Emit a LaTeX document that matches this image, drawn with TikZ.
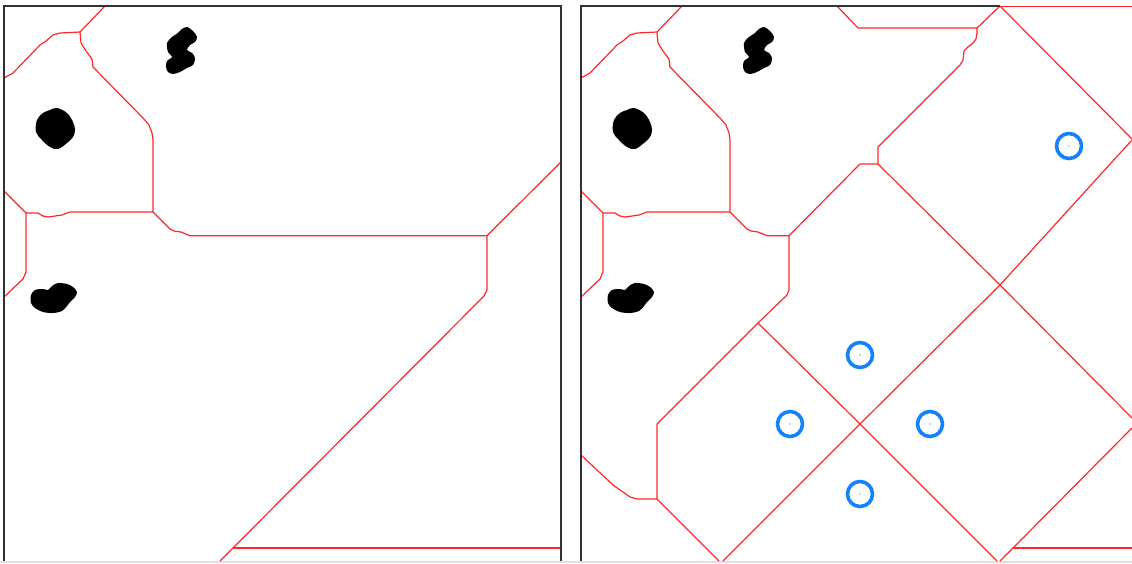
\documentclass[tikz,border=0pt]{standalone}
\usetikzlibrary{calc}
\definecolor{vred}{RGB}{255,40,40}
\definecolor{cblue}{RGB}{20,130,250}
\definecolor{frame}{RGB}{50,50,50}
\tikzset{
  vor/.style={draw=vred,line width=1.2pt,line join=round},
  border/.style={draw=frame,line width=1.4pt},
  blob/.style={fill=black,draw=none},
  target/.style={circle,draw=cblue,line width=3.6pt,minimum size=25pt,inner sep=0pt},
}
\newcommand{\obstacles}{%
  \fill[blob] plot[smooth cycle,tension=0.6] coordinates {(57,108) (67,113) (73,122) (75,130) (73,137) (67,143) (58,149) (50,147) (42,140) (36,132) (37,120) (43,113) (50,110)};
  \fill[blob] plot[smooth cycle,tension=0.5] coordinates {(187,27) (193,31) (197,37) (195,42) (190,45) (187,50) (192,53) (195,58) (193,65) (187,68) (180,72) (173,74) (168,72) (166,67) (167,61) (172,57) (168,52) (167,43) (172,37) (178,33) (182,29)};
  \fill[blob] plot[smooth cycle,tension=0.5] coordinates {(31,295) (35,290) (43,289) (48,290) (52,286) (58,283) (67,284) (73,287) (77,292) (75,297) (70,302) (67,306) (62,311) (53,313) (43,312) (35,308) (31,303)};
}
\begin{document}
\begin{tikzpicture}[x=1pt,y=-1pt]
\useasboundingbox (0,0) rectangle (1132,563);
\fill[white] (0,0) rectangle (1132,563);
\fill[gray!25] (0,561) rectangle (1132,563);

% ---------------- left panel ----------------
\obstacles
\draw[vor] (4,78) -- (13,73) -- (40,45) -- (46,41) -- (53,35) -- (60,33) -- (80,32) -- (105,6);
\draw[vor] (80,32) -- (81,43) -- (86,51) -- (92,59) -- (93,67) -- (143,118) -- (149,125) -- (152,133) -- (153,140) -- (153,212);
\draw[vor] (26,213) -- (38,213) -- (43,216) -- (48,217) -- (62,215) -- (70,212) -- (153,212);
\draw[vor] (4,191) -- (26,213) -- (26,272) -- (23,279) -- (4,297);
\draw[vor] (153,212) -- (170,229) -- (174,231) -- (181,232) -- (190,235.7) -- (487,235.7) -- (561,162);
\draw[vor] (487,235.7) -- (487,290) -- (484,296) -- (233,548) -- (220,561);
\draw[vor] (233,548) -- (561,548);
\draw[border] (4,561) -- (4,6) -- (561,6) -- (561,561);

% ---------------- right panel ----------------
\begin{scope}[xshift=577pt]
\obstacles
\end{scope}
\draw[vor] (581,78) -- (590,73) -- (617,45) -- (623,41) -- (630,35) -- (637,33) -- (657,32) -- (682,6);
\draw[vor] (657,32) -- (658,43) -- (663,51) -- (669,59) -- (670,67) -- (720,118) -- (726,125) -- (729,133) -- (730,140) -- (730,212);
\draw[vor] (603,213) -- (615,213) -- (620,216) -- (625,217) -- (639,215) -- (647,212) -- (730,212);
\draw[vor] (581,191) -- (603,213) -- (603,272) -- (600,279) -- (581,297);
\draw[vor] (730,212) -- (747,229) -- (751,231) -- (758,232) -- (767,235.7) -- (789,235.7) -- (860,164) -- (878,164) -- (878,147) -- (960,65) -- (963,60) -- (964,51) -- (968,47) -- (973,43) -- (976,39) -- (977,33) -- (977,28) -- (1000,6);
\draw[vor] (837,6) -- (858,28) -- (977,28);
\draw[vor] (1000,6) -- (1132,139);
\draw[vor] (878,164) -- (1000,285) -- (1132,418);
\draw[vor] (1132,140) -- (1000,285) -- (860,424) -- (723,561);
\draw[vor] (758,323) -- (860,424) -- (997,561);
\draw[vor] (789,235.7) -- (789,290) -- (787,295) -- (758,323) -- (657,424) -- (657,499) -- (719,561);
\draw[vor] (657,499) -- (637,499) -- (630,497) -- (613,485) -- (581,455);
\draw[vor] (1132,428) -- (1013,548) -- (1000,561);
\draw[vor] (1013,548) -- (1132,548);
\draw[border] (581,561) -- (581,6) -- (1000,6);
\draw[vred,line width=1.8pt] (1000,6.5) -- (1132,6.5);

\foreach \n/\p in {t1/{(860,355)},t2/{(790,424)},t3/{(930,424)},t4/{(860,494)},t5/{(1069,146)}}{
  \node[target] (\n) at \p {};
  \fill[black!70] (\n.center) circle (0.7pt);
}
\end{tikzpicture}
\end{document}
